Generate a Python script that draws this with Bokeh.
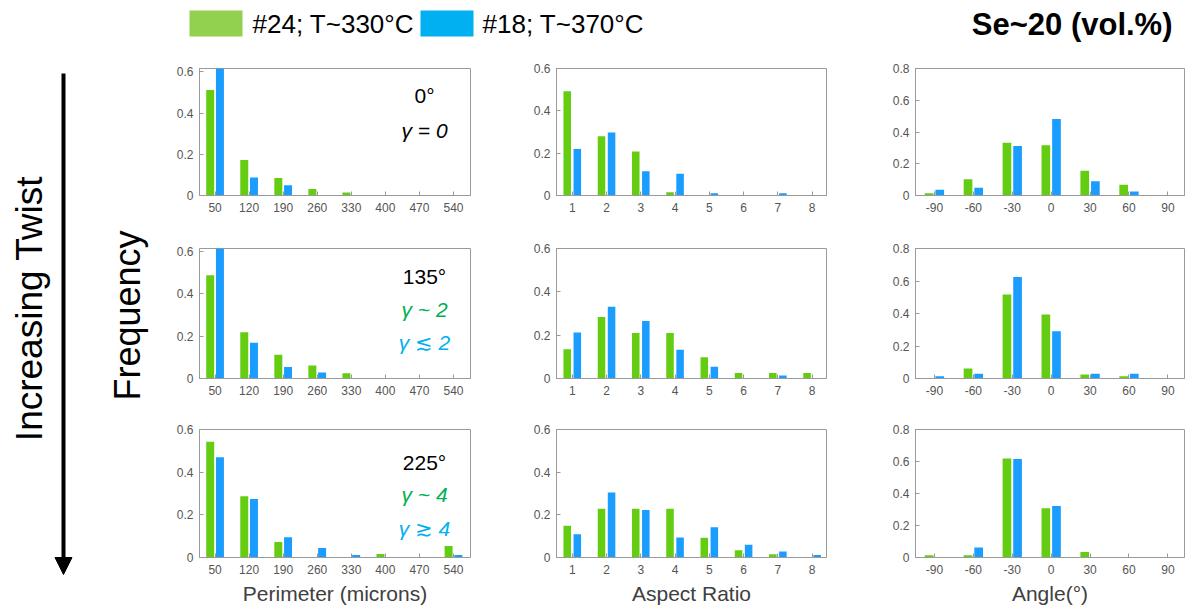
import math
from bokeh.plotting import figure
from bokeh.layouts import column, row
from bokeh.models import (Range1d, FixedTicker, CustomJSTickFormatter,
                          Label, Arrow, NormalHead, BoxAnnotation, ColumnDataSource)
from bokeh.transform import dodge
from bokeh.embed import file_html
from bokeh.resources import INLINE

# ---------------- data ----------------
perimeter_bins = [50, 120, 190, 260, 330, 400, 470, 540]
aspect_bins = [1, 2, 3, 4, 5, 6, 7, 8]
angle_bins = [-90, -60, -30, 0, 30, 60, 90]

series_names = ["#24; T~330°C", "#18; T~370°C"]
twist_labels = ["0°", "135°", "225°"]

# 0 deg twist
perim_0_s24 = [0.512, 0.173, 0.085, 0.032, 0.014, 0, 0, 0]
perim_0_s18 = [0.66, 0.088, 0.050, 0, 0, 0, 0, 0]
aspect_0_s24 = [0.492, 0.280, 0.208, 0.015, 0, 0, 0, 0]
aspect_0_s18 = [0.220, 0.298, 0.115, 0.103, 0.011, 0, 0.011, 0]
angle_0_s24 = [0.014, 0.103, 0.332, 0.316, 0.156, 0.068, 0]
angle_0_s18 = [0.037, 0.049, 0.312, 0.482, 0.090, 0.025, 0]
# 135 deg twist
perim_135_s24 = [0.488, 0.219, 0.112, 0.061, 0.025, 0, 0, 0]
perim_135_s18 = [0.64, 0.169, 0.054, 0.028, 0, 0, 0, 0]
aspect_135_s24 = [0.135, 0.284, 0.210, 0.210, 0.098, 0.025, 0.025, 0.025]
aspect_135_s18 = [0.212, 0.331, 0.265, 0.133, 0.054, 0, 0.014, 0]
angle_135_s24 = [0, 0.062, 0.517, 0.394, 0.025, 0.014, 0]
angle_135_s18 = [0.014, 0.029, 0.624, 0.291, 0.029, 0.029, 0]
# 225 deg twist
perim_225_s24 = [0.543, 0.287, 0.073, 0, 0, 0.016, 0, 0.054]
perim_225_s18 = [0.470, 0.274, 0.095, 0.045, 0.012, 0, 0, 0.012]
aspect_225_s24 = [0.149, 0.228, 0.228, 0.228, 0.092, 0.034, 0.015, 0]
aspect_225_s18 = [0.109, 0.305, 0.223, 0.094, 0.142, 0.060, 0.028, 0.012]
angle_225_s24 = [0.014, 0.014, 0.618, 0.308, 0.035, 0, 0]
angle_225_s18 = [0, 0.062, 0.616, 0.322, 0, 0, 0]

# ---------------- style ----------------
GREEN = "#64cd12"
BLUE = "#1a9dff"
LEG_GREEN = "#92d050"
LEG_BLUE = "#00b0f0"
TXT_GREEN = "#00b050"
TXT_BLUE = "#00b0f0"
AX = "#9a9a9a"
TICK_TXT = "#555555"
FONT = "Liberation Sans"
MATHFONT = "Liberation Sans, DejaVu Sans"

TOP_H = 55
LEFT_W = 158
# columns (fig width, left border, right border), rows (fig height)
col_geo = [(357, 41, 45), (359, 41, 48), (311, 41, 1)]
row_h = [183, 180, 189]
# per (row, col): (top border, bottom border)
borders = {
    (0, 0): (13, 43), (0, 1): (10, 43), (0, 2): (10, 43),
    (1, 0): (9, 40), (1, 1): (10, 40), (1, 2): (10, 40),
    (2, 0): (11, 49), (2, 1): (10, 49), (2, 2): (10, 49),
}
col_x = [(18, 575), (0.54, 8.42), (-104.6, 102.8)]
ymax = {(0, 0): 0.617, (1, 0): 0.614, (2, 0): 0.6}
col_bar = [(10.0, 16.4), (0.147, 0.22), (4.1, 6.7)]  # (offset, width)
col_bins = [perimeter_bins, aspect_bins, angle_bins]
col_yticks = [[0, 0.2, 0.4, 0.6], [0, 0.2, 0.4, 0.6], [0, 0.2, 0.4, 0.6, 0.8]]
col_xlabel = ["Perimeter (microns)", "Aspect Ratio", "Angle(°)"]

data = [
    [(perim_0_s24, perim_0_s18), (aspect_0_s24, aspect_0_s18), (angle_0_s24, angle_0_s18)],
    [(perim_135_s24, perim_135_s18), (aspect_135_s24, aspect_135_s18), (angle_135_s24, angle_135_s18)],
    [(perim_225_s24, perim_225_s18), (aspect_225_s24, aspect_225_s18), (angle_225_s24, angle_225_s18)],
]

fmt = CustomJSTickFormatter(code="return String(tick);")


def style_axis(ax, ticks, standoff):
    ax.ticker = FixedTicker(ticks=ticks)
    ax.axis_line_color = AX
    ax.major_tick_line_color = AX
    ax.major_tick_in = 4
    ax.major_tick_out = 0
    ax.minor_tick_line_color = None
    ax.formatter = fmt
    ax.major_label_text_font = FONT
    ax.major_label_text_font_size = "12px"
    ax.major_label_text_color = TICK_TXT
    ax.major_label_standoff = standoff


def make_panel(r, c):
    w, bl, br = col_geo[c]
    h = row_h[r]
    bt, bb = borders[(r, c)]
    ytop = ymax.get((r, c), 0.8 if c == 2 else 0.6)
    p = figure(width=w, height=h, x_range=Range1d(*col_x[c]), y_range=Range1d(0, ytop),
               output_backend="svg", toolbar_location=None,
               min_border_left=bl, min_border_right=br, min_border_top=bt, min_border_bottom=bb)
    g, b = data[r][c]
    src = ColumnDataSource(dict(x=col_bins[c], g=g, b=b))
    off, bw = col_bar[c]
    p.vbar(x=dodge("x", -off), top="g", width=bw, bottom=0, source=src,
           fill_color=GREEN, line_color=None)
    p.vbar(x=dodge("x", off), top="b", width=bw, bottom=0, source=src,
           fill_color=BLUE, line_color=None)
    p.grid.visible = False
    p.outline_line_color = AX
    p.outline_line_alpha = 1
    p.background_fill_color = "white"
    p.border_fill_color = "white"
    style_axis(p.below[0], col_bins[c], 7)
    style_axis(p.left[0], col_yticks[c], 6)
    if r == 2:
        ax = p.below[0]
        ax.axis_label = col_xlabel[c]
        ax.axis_label_text_font = FONT
        ax.axis_label_text_font_size = "21px"
        ax.axis_label_text_font_style = "normal"
        ax.axis_label_text_color = "#404040"
        ax.axis_label_standoff = 5
    return p, (bl, w - br, bt, h - bb)


def page_to_data(p, frame, r, c, px, py):
    x0 = LEFT_W + sum(col_geo[i][0] for i in range(c))
    y0 = TOP_H + sum(row_h[i] for i in range(r))
    fl, fr, ft, fb = frame
    xr = p.x_range
    yr = p.y_range
    xd = xr.start + (px - (x0 + fl)) / (fr - fl) * (xr.end - xr.start)
    yd = yr.start + ((y0 + fb) - py) / (fb - ft) * (yr.end - yr.start)
    return xd, yd


panels = []
for r in range(3):
    row_figs = []
    for c in range(3):
        p, frame = make_panel(r, c)
        if c == 0:
            labels = [(twist_labels[r], "black", "normal", 0)]
            if r == 0:
                labels.append(("γ = 0", "black", "italic", 1))
            elif r == 1:
                labels.append(("γ ~ 2", TXT_GREEN, "italic", 1))
                labels.append(("γ ≲ 2", TXT_BLUE, "italic", 2))
            else:
                labels.append(("γ ~ 4", TXT_GREEN, "italic", 1))
                labels.append(("γ ≳ 4", TXT_BLUE, "italic", 2))
            base_y = [95, 275, 462][r]
            steps = [0, 35] if r == 0 else [0, 33, 67]
            for txt, colr, style, k in labels:
                xd, yd = page_to_data(p, frame, r, c, 424, base_y + steps[k])
                p.add_layout(Label(x=xd, y=yd, text=txt, text_color=colr, text_font=MATHFONT,
                                   text_font_style=style, text_font_size="21px",
                                   text_align="center", text_baseline="middle"))
        row_figs.append(p)
    panels.append(row(*row_figs))

grid = column(*panels)

# ---------------- left strip ----------------
left_h = sum(row_h)
left = figure(width=LEFT_W, height=left_h, x_range=Range1d(0, LEFT_W), y_range=Range1d(0, left_h),
              x_axis_type=None, y_axis_type=None, output_backend="svg", toolbar_location=None,
              min_border=0)
left.grid.visible = False
left.outline_line_color = None


def ly(page_y):
    return (TOP_H + left_h) - page_y


left.add_layout(Arrow(end=NormalHead(size=17, fill_color="black", line_color="black"),
                      x_start=63, y_start=ly(73), x_end=63, y_end=ly(574),
                      line_width=4, line_color="black"))
left.add_layout(Label(x=29, y=ly(308), text="Increasing Twist", angle=math.pi / 2,
                      text_font=FONT, text_font_size="37px", text_color="black",
                      text_align="center", text_baseline="middle"))
left.add_layout(Label(x=127, y=ly(315), text="Frequency", angle=math.pi / 2,
                      text_font=FONT, text_font_size="36px", text_color="black",
                      text_align="center", text_baseline="middle"))

# ---------------- top strip ----------------
top = figure(width=LEFT_W + sum(g[0] for g in col_geo), height=TOP_H,
             x_range=Range1d(0, LEFT_W + sum(g[0] for g in col_geo)), y_range=Range1d(0, TOP_H),
             x_axis_type=None, y_axis_type=None, output_backend="svg", toolbar_location=None,
             min_border=0)
top.grid.visible = False
top.outline_line_color = None


def ty(page_y):
    return TOP_H - page_y


top.add_layout(BoxAnnotation(left=189, right=242, top=ty(10), bottom=ty(36),
                             fill_color=LEG_GREEN, fill_alpha=1, line_color=None))
top.add_layout(Label(x=252, y=ty(23), text=series_names[0], text_font=FONT,
                     text_font_size="26px", text_color="black", text_baseline="middle"))
top.add_layout(BoxAnnotation(left=420, right=473, top=ty(10), bottom=ty(36),
                             fill_color=LEG_BLUE, fill_alpha=1, line_color=None))
top.add_layout(Label(x=482, y=ty(23), text=series_names[1], text_font=FONT,
                     text_font_size="26px", text_color="black", text_baseline="middle"))
top.add_layout(Label(x=1172, y=ty(24), text="Se~20 (vol.%)", text_font=FONT,
                     text_font_size="31px", text_font_style="bold", text_color="black",
                     text_align="right", text_baseline="middle"))

layout = column(top, row(left, grid))

open("out.html", "w").write(file_html(layout, INLINE))
